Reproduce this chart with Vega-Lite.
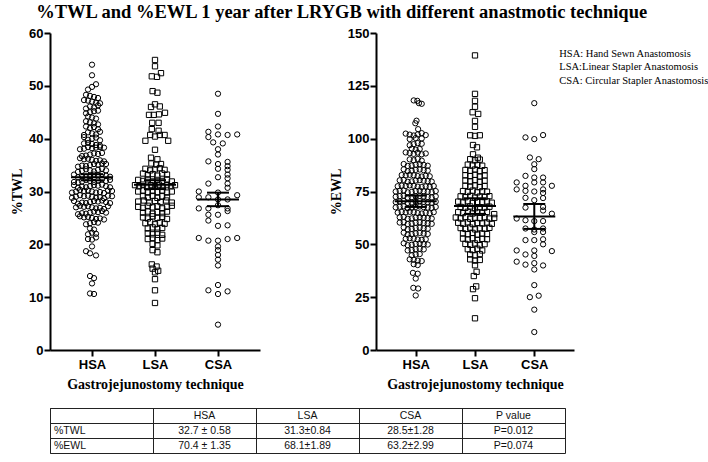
{
  "$schema": "https://vega.github.io/schema/vega-lite/v6.json",
  "background": "white",
  "padding": {"left": 0, "top": 2, "right": 0, "bottom": 0},
  "title": {"text": "%TWL and %EWL 1 year after LRYGB with different anastmotic technique", "font": "Liberation Serif", "fontSize": 18.5, "fontWeight": "bold", "color": "black", "anchor": "middle", "offset": 6, "dx": -13},
  "datasets": {
    "twl": [
      {"g":"HSA","v":54.0,"o":0},{"g":"HSA","v":52.0,"o":0},
      {"g":"HSA","v":50.3,"o":1},{"g":"HSA","v":49.8,"o":0},{"g":"HSA","v":49.3,"o":-1},
      {"g":"HSA","v":48.1,"o":-0.5},{"g":"HSA","v":47.9,"o":0.5},{"g":"HSA","v":48.3,"o":-1.5},{"g":"HSA","v":47.7,"o":1.5},
      {"g":"HSA","v":47.0,"o":0},{"g":"HSA","v":47.2,"o":-1},{"g":"HSA","v":46.8,"o":1},{"g":"HSA","v":47.3,"o":-2},{"g":"HSA","v":46.7,"o":2},
      {"g":"HSA","v":46.1,"o":-0.5},{"g":"HSA","v":45.9,"o":0.5},{"g":"HSA","v":46.3,"o":1.5},{"g":"HSA","v":45.7,"o":-1.5},
      {"g":"HSA","v":45.0,"o":-0.5},{"g":"HSA","v":45.2,"o":0.5},{"g":"HSA","v":44.8,"o":-1.5},{"g":"HSA","v":45.3,"o":1.5},
      {"g":"HSA","v":44.0,"o":0},{"g":"HSA","v":44.2,"o":-1},{"g":"HSA","v":43.8,"o":1},
      {"g":"HSA","v":43.1,"o":-0.5},{"g":"HSA","v":42.9,"o":0.5},{"g":"HSA","v":43.3,"o":-1.5},{"g":"HSA","v":42.7,"o":1.5},
      {"g":"HSA","v":42.0,"o":-0.5},{"g":"HSA","v":42.2,"o":0.5},{"g":"HSA","v":41.8,"o":1.5},{"g":"HSA","v":42.3,"o":-1.5},
      {"g":"HSA","v":41.0,"o":0},{"g":"HSA","v":41.2,"o":-1},{"g":"HSA","v":40.8,"o":1},{"g":"HSA","v":41.3,"o":2},{"g":"HSA","v":40.7,"o":-2},
      {"g":"HSA","v":40.0,"o":0},{"g":"HSA","v":40.2,"o":1},{"g":"HSA","v":39.8,"o":-1},{"g":"HSA","v":40.3,"o":-2},{"g":"HSA","v":39.7,"o":2},
      {"g":"HSA","v":39.0,"o":0},{"g":"HSA","v":39.2,"o":-1},{"g":"HSA","v":38.8,"o":1},{"g":"HSA","v":39.1,"o":-2},{"g":"HSA","v":38.7,"o":2},
      {"g":"HSA","v":38.2,"o":0},{"g":"HSA","v":38.4,"o":-1},{"g":"HSA","v":38.3,"o":1},{"g":"HSA","v":38.1,"o":-2},{"g":"HSA","v":38.4,"o":2},{"g":"HSA","v":38.0,"o":-3},{"g":"HSA","v":38.3,"o":3},
      {"g":"HSA","v":37.0,"o":-0.5},{"g":"HSA","v":37.2,"o":0.5},{"g":"HSA","v":36.8,"o":-1.5},{"g":"HSA","v":37.1,"o":1.5},{"g":"HSA","v":36.7,"o":-2.5},{"g":"HSA","v":37.3,"o":2.5},
      {"g":"HSA","v":36.0,"o":0},{"g":"HSA","v":36.2,"o":-1},{"g":"HSA","v":35.8,"o":1},{"g":"HSA","v":36.1,"o":-2},{"g":"HSA","v":35.9,"o":2},{"g":"HSA","v":36.3,"o":-3},{"g":"HSA","v":35.7,"o":3},
      {"g":"HSA","v":35.0,"o":-0.5},{"g":"HSA","v":35.2,"o":0.5},{"g":"HSA","v":34.8,"o":-1.5},{"g":"HSA","v":35.1,"o":1.5},{"g":"HSA","v":34.9,"o":-2.5},{"g":"HSA","v":35.3,"o":2.5},{"g":"HSA","v":34.7,"o":-3.5},{"g":"HSA","v":35.2,"o":3.5},
      {"g":"HSA","v":34.0,"o":-0.5},{"g":"HSA","v":33.8,"o":0.5},{"g":"HSA","v":34.2,"o":-1.5},{"g":"HSA","v":34.1,"o":1.5},{"g":"HSA","v":33.9,"o":-2.5},{"g":"HSA","v":34.3,"o":2.5},{"g":"HSA","v":33.7,"o":-3.5},{"g":"HSA","v":34.0,"o":3.5},
      {"g":"HSA","v":33.0,"o":-0.5},{"g":"HSA","v":33.2,"o":0.5},{"g":"HSA","v":32.8,"o":-1.5},{"g":"HSA","v":33.1,"o":1.5},{"g":"HSA","v":32.9,"o":-2.5},{"g":"HSA","v":33.3,"o":2.5},{"g":"HSA","v":32.7,"o":-3.5},{"g":"HSA","v":33.0,"o":3.5},{"g":"HSA","v":33.2,"o":-4.5},{"g":"HSA","v":32.8,"o":4.5},
      {"g":"HSA","v":32.0,"o":-0.5},{"g":"HSA","v":31.8,"o":0.5},{"g":"HSA","v":32.2,"o":-1.5},{"g":"HSA","v":32.1,"o":1.5},{"g":"HSA","v":31.9,"o":-2.5},{"g":"HSA","v":32.3,"o":2.5},{"g":"HSA","v":31.7,"o":-3.5},{"g":"HSA","v":32.0,"o":3.5},{"g":"HSA","v":31.8,"o":-4.5},{"g":"HSA","v":32.2,"o":4.5},
      {"g":"HSA","v":31.0,"o":-0.5},{"g":"HSA","v":31.2,"o":0.5},{"g":"HSA","v":30.8,"o":-1.5},{"g":"HSA","v":31.1,"o":1.5},{"g":"HSA","v":30.9,"o":-2.5},{"g":"HSA","v":31.3,"o":2.5},{"g":"HSA","v":30.7,"o":-3.5},{"g":"HSA","v":31.0,"o":3.5},{"g":"HSA","v":31.2,"o":-4.5},{"g":"HSA","v":30.8,"o":4.5},
      {"g":"HSA","v":30.0,"o":0},{"g":"HSA","v":30.2,"o":-1},{"g":"HSA","v":29.8,"o":1},{"g":"HSA","v":30.1,"o":-2},{"g":"HSA","v":29.9,"o":2},{"g":"HSA","v":30.3,"o":-3},{"g":"HSA","v":29.7,"o":3},{"g":"HSA","v":30.0,"o":-4},{"g":"HSA","v":30.2,"o":4},{"g":"HSA","v":29.8,"o":-5},{"g":"HSA","v":30.1,"o":5},
      {"g":"HSA","v":29.0,"o":0},{"g":"HSA","v":29.2,"o":-1},{"g":"HSA","v":28.8,"o":1},{"g":"HSA","v":29.1,"o":-2},{"g":"HSA","v":28.9,"o":2},{"g":"HSA","v":29.3,"o":-3},{"g":"HSA","v":28.7,"o":3},{"g":"HSA","v":29.0,"o":-4},{"g":"HSA","v":29.2,"o":4},{"g":"HSA","v":28.8,"o":-5},{"g":"HSA","v":29.1,"o":5},
      {"g":"HSA","v":28.0,"o":-0.5},{"g":"HSA","v":28.2,"o":0.5},{"g":"HSA","v":27.8,"o":-1.5},{"g":"HSA","v":28.1,"o":1.5},{"g":"HSA","v":27.9,"o":-2.5},{"g":"HSA","v":28.3,"o":2.5},{"g":"HSA","v":27.7,"o":-3.5},{"g":"HSA","v":28.0,"o":3.5},{"g":"HSA","v":28.2,"o":-4.5},{"g":"HSA","v":27.8,"o":4.5},
      {"g":"HSA","v":27.0,"o":0},{"g":"HSA","v":27.2,"o":-1},{"g":"HSA","v":26.8,"o":1},{"g":"HSA","v":27.1,"o":-2},{"g":"HSA","v":26.9,"o":2},{"g":"HSA","v":27.3,"o":-3},{"g":"HSA","v":26.7,"o":3},{"g":"HSA","v":27.0,"o":-4},{"g":"HSA","v":27.2,"o":4},
      {"g":"HSA","v":26.0,"o":-0.5},{"g":"HSA","v":26.2,"o":0.5},{"g":"HSA","v":25.8,"o":-1.5},{"g":"HSA","v":26.1,"o":1.5},{"g":"HSA","v":25.9,"o":-2.5},{"g":"HSA","v":26.3,"o":2.5},{"g":"HSA","v":25.7,"o":-3.5},{"g":"HSA","v":26.0,"o":3.5},
      {"g":"HSA","v":25.0,"o":0},{"g":"HSA","v":25.2,"o":-1},{"g":"HSA","v":24.8,"o":1},{"g":"HSA","v":25.1,"o":-2},{"g":"HSA","v":24.9,"o":2},{"g":"HSA","v":25.3,"o":-3},{"g":"HSA","v":24.7,"o":3},
      {"g":"HSA","v":24.0,"o":-0.5},{"g":"HSA","v":24.2,"o":0.5},{"g":"HSA","v":23.8,"o":-1.5},{"g":"HSA","v":24.1,"o":1.5},
      {"g":"HSA","v":23.0,"o":-0.5},{"g":"HSA","v":22.8,"o":0.5},
      {"g":"HSA","v":22.2,"o":0},{"g":"HSA","v":21.9,"o":-1},{"g":"HSA","v":22.0,"o":1},
      {"g":"HSA","v":21.3,"o":1},{"g":"HSA","v":21.0,"o":-1},{"g":"HSA","v":20.9,"o":0},
      {"g":"HSA","v":19.6,"o":0},
      {"g":"HSA","v":18.7,"o":-1.5},{"g":"HSA","v":18.3,"o":-0.5},{"g":"HSA","v":17.9,"o":1},
      {"g":"HSA","v":14.0,"o":-0.5},{"g":"HSA","v":13.6,"o":0.5},{"g":"HSA","v":12.6,"o":0},{"g":"HSA","v":10.7,"o":-0.5},{"g":"HSA","v":10.6,"o":0.5},

      {"g":"LSA","v":54.9,"o":0},{"g":"LSA","v":53.7,"o":0},{"g":"LSA","v":52.4,"o":1.5},{"g":"LSA","v":51.8,"o":-0.8},{"g":"LSA","v":51.7,"o":0.5},
      {"g":"LSA","v":49.0,"o":-0.6},{"g":"LSA","v":48.7,"o":0.6},{"g":"LSA","v":46.5,"o":0},{"g":"LSA","v":46.0,"o":-1},{"g":"LSA","v":46.1,"o":1.2},
      {"g":"LSA","v":44.9,"o":2.5},{"g":"LSA","v":44.5,"o":-1.5},{"g":"LSA","v":44.5,"o":-0.3},{"g":"LSA","v":44.6,"o":1},
      {"g":"LSA","v":43.0,"o":-0.7},{"g":"LSA","v":43.0,"o":0.9},{"g":"LSA","v":41.8,"o":-0.8},{"g":"LSA","v":41.5,"o":0.9},
      {"g":"LSA","v":40.7,"o":-1.2},{"g":"LSA","v":40.4,"o":0},{"g":"LSA","v":40.7,"o":1.2},{"g":"LSA","v":40.7,"o":2.4},{"g":"LSA","v":39.6,"o":-2.4},{"g":"LSA","v":39.6,"o":3.3},
      {"g":"LSA","v":37.9,"o":0},
      {"g":"LSA","v":36.4,"o":-1},{"g":"LSA","v":36.1,"o":0.6},{"g":"LSA","v":35.3,"o":-0.9},{"g":"LSA","v":35.1,"o":0.3},{"g":"LSA","v":35.2,"o":1.5},
      {"g":"LSA","v":34.3,"o":-2.4},{"g":"LSA","v":34.0,"o":-1.2},{"g":"LSA","v":34.2,"o":0},{"g":"LSA","v":34.4,"o":1.2},{"g":"LSA","v":34.1,"o":2.4},
      {"g":"LSA","v":33.4,"o":-3},{"g":"LSA","v":33.1,"o":-1.8},{"g":"LSA","v":33.3,"o":-0.6},{"g":"LSA","v":33.0,"o":0.6},{"g":"LSA","v":33.4,"o":1.8},{"g":"LSA","v":33.2,"o":3},
      {"g":"LSA","v":32.2,"o":-4.2},{"g":"LSA","v":32.0,"o":-3},{"g":"LSA","v":32.3,"o":-1.8},{"g":"LSA","v":31.9,"o":-0.6},{"g":"LSA","v":32.2,"o":0.6},{"g":"LSA","v":32.0,"o":1.8},{"g":"LSA","v":32.3,"o":3},{"g":"LSA","v":31.9,"o":4.2},
      {"g":"LSA","v":31.2,"o":-5},{"g":"LSA","v":31.0,"o":-4},{"g":"LSA","v":31.3,"o":-3},{"g":"LSA","v":30.9,"o":-2},{"g":"LSA","v":31.2,"o":-1},{"g":"LSA","v":31.0,"o":0},{"g":"LSA","v":31.3,"o":1},{"g":"LSA","v":30.9,"o":2},{"g":"LSA","v":31.2,"o":3},{"g":"LSA","v":31.0,"o":4},{"g":"LSA","v":31.2,"o":5},
      {"g":"LSA","v":30.0,"o":-4.2},{"g":"LSA","v":30.2,"o":-3},{"g":"LSA","v":29.8,"o":-1.8},{"g":"LSA","v":30.1,"o":-0.6},{"g":"LSA","v":29.9,"o":0.6},{"g":"LSA","v":30.2,"o":1.8},{"g":"LSA","v":29.8,"o":3},{"g":"LSA","v":30.0,"o":4.2},
      {"g":"LSA","v":29.1,"o":-3},{"g":"LSA","v":28.9,"o":-1.8},{"g":"LSA","v":29.2,"o":-0.6},{"g":"LSA","v":28.8,"o":0.6},{"g":"LSA","v":29.1,"o":1.8},{"g":"LSA","v":28.9,"o":3},
      {"g":"LSA","v":28.1,"o":-4.2},{"g":"LSA","v":28.3,"o":-2.8},{"g":"LSA","v":27.9,"o":-1.4},{"g":"LSA","v":28.2,"o":0},{"g":"LSA","v":28.0,"o":1.4},{"g":"LSA","v":28.3,"o":2.8},{"g":"LSA","v":27.9,"o":4.2},
      {"g":"LSA","v":27.1,"o":-4.2},{"g":"LSA","v":26.9,"o":-3},{"g":"LSA","v":27.3,"o":-1.8},{"g":"LSA","v":27.0,"o":-0.6},{"g":"LSA","v":27.2,"o":0.6},{"g":"LSA","v":26.8,"o":1.8},{"g":"LSA","v":27.1,"o":3},{"g":"LSA","v":27.3,"o":4.2},
      {"g":"LSA","v":26.0,"o":-3},{"g":"LSA","v":26.2,"o":-1.8},{"g":"LSA","v":25.8,"o":-0.6},{"g":"LSA","v":26.1,"o":0.6},{"g":"LSA","v":25.9,"o":1.8},{"g":"LSA","v":26.2,"o":3},
      {"g":"LSA","v":25.1,"o":-3},{"g":"LSA","v":24.9,"o":-1.8},{"g":"LSA","v":25.3,"o":-0.6},{"g":"LSA","v":25.0,"o":0.6},{"g":"LSA","v":25.2,"o":1.8},{"g":"LSA","v":24.8,"o":3},
      {"g":"LSA","v":24.0,"o":-2.4},{"g":"LSA","v":24.2,"o":-1.2},{"g":"LSA","v":23.8,"o":0},{"g":"LSA","v":24.1,"o":1.2},{"g":"LSA","v":23.9,"o":2.4},
      {"g":"LSA","v":23.0,"o":-1.8},{"g":"LSA","v":23.2,"o":-0.6},{"g":"LSA","v":22.9,"o":0.6},{"g":"LSA","v":23.1,"o":1.8},
      {"g":"LSA","v":22.1,"o":-1.8},{"g":"LSA","v":21.9,"o":-0.6},{"g":"LSA","v":22.2,"o":0.6},{"g":"LSA","v":21.8,"o":1.8},
      {"g":"LSA","v":21.0,"o":-1.8},{"g":"LSA","v":21.2,"o":-0.6},{"g":"LSA","v":20.8,"o":0.6},{"g":"LSA","v":21.1,"o":1.8},
      {"g":"LSA","v":20.1,"o":-0.6},{"g":"LSA","v":19.8,"o":0.6},{"g":"LSA","v":18.9,"o":-0.6},{"g":"LSA","v":18.5,"o":0.6},
      {"g":"LSA","v":16.2,"o":-0.8},{"g":"LSA","v":15.8,"o":0.4},{"g":"LSA","v":15.4,"o":-0.6},{"g":"LSA","v":15.0,"o":0.8},{"g":"LSA","v":14.7,"o":0},
      {"g":"LSA","v":13.4,"o":0},{"g":"LSA","v":11.3,"o":0},{"g":"LSA","v":8.9,"o":0},

      {"g":"CSA","v":48.5,"o":0},{"g":"CSA","v":44.7,"o":0},{"g":"CSA","v":42.3,"o":0},{"g":"CSA","v":41.3,"o":-2.4},{"g":"CSA","v":40.3,"o":-2.4},{"g":"CSA","v":40.8,"o":0},{"g":"CSA","v":40.7,"o":2.4},{"g":"CSA","v":40.8,"o":4.8},
      {"g":"CSA","v":39.3,"o":-1.2},{"g":"CSA","v":39.1,"o":1.2},{"g":"CSA","v":38.0,"o":0},{"g":"CSA","v":37.0,"o":0},
      {"g":"CSA","v":35.7,"o":-2.4},{"g":"CSA","v":35.2,"o":0},{"g":"CSA","v":34.3,"o":0},{"g":"CSA","v":32.7,"o":0},{"g":"CSA","v":31.5,"o":-2.4},
      {"g":"CSA","v":35.6,"o":2.4},{"g":"CSA","v":34.8,"o":2.4},{"g":"CSA","v":34.1,"o":2.4},{"g":"CSA","v":33.2,"o":2.4},{"g":"CSA","v":32.5,"o":2.4},{"g":"CSA","v":31.5,"o":2.4},{"g":"CSA","v":30.7,"o":2.4},
      {"g":"CSA","v":30.0,"o":-4.8},{"g":"CSA","v":29.8,"o":0},{"g":"CSA","v":29.3,"o":4.8},{"g":"CSA","v":28.9,"o":-4.8},{"g":"CSA","v":28.9,"o":-2.4},{"g":"CSA","v":28.5,"o":0},{"g":"CSA","v":28.5,"o":2.4},
      {"g":"CSA","v":26.8,"o":-4.8},{"g":"CSA","v":26.8,"o":-2.4},{"g":"CSA","v":27.4,"o":0},{"g":"CSA","v":26.8,"o":2.4},{"g":"CSA","v":25.6,"o":-2.4},{"g":"CSA","v":25.6,"o":0},{"g":"CSA","v":26.3,"o":2.4},{"g":"CSA","v":24.5,"o":-2.4},{"g":"CSA","v":23.5,"o":0},{"g":"CSA","v":23.6,"o":2.4},
      {"g":"CSA","v":21.2,"o":-4.8},{"g":"CSA","v":20.7,"o":-2.4},{"g":"CSA","v":20.7,"o":0},{"g":"CSA","v":21.0,"o":2.4},{"g":"CSA","v":21.2,"o":4.8},
      {"g":"CSA","v":19.6,"o":0},{"g":"CSA","v":18.9,"o":0},{"g":"CSA","v":18.0,"o":0},{"g":"CSA","v":17.1,"o":0},{"g":"CSA","v":16.0,"o":0},
      {"g":"CSA","v":12.3,"o":0},{"g":"CSA","v":11.3,"o":-2.4},{"g":"CSA","v":10.6,"o":0},{"g":"CSA","v":11.1,"o":2.4},{"g":"CSA","v":4.8,"o":0}
    ],
    "ewl": [
      {"g":"HSA","v":118.1,"o":-0.5},{"g":"HSA","v":117.9,"o":0.4},{"g":"HSA","v":116.8,"o":0.8},{"g":"HSA","v":116.5,"o":1.5},
      {"g":"HSA","v":108.5,"o":0.2},{"g":"HSA","v":107.3,"o":-0.1},{"g":"HSA","v":104.5,"o":0.6},
      {"g":"HSA","v":102.4,"o":-2.5},{"g":"HSA","v":101.9,"o":-1.5},{"g":"HSA","v":101.5,"o":-0.5},{"g":"HSA","v":102.0,"o":0.5},{"g":"HSA","v":102.6,"o":1.5},{"g":"HSA","v":101.7,"o":2.5},
      {"g":"HSA","v":99.8,"o":-1.5},{"g":"HSA","v":100.3,"o":0},{"g":"HSA","v":100.1,"o":1.5},
      {"g":"HSA","v":97.4,"o":-0.5},{"g":"HSA","v":97.9,"o":0.5},{"g":"HSA","v":96.9,"o":-1.5},{"g":"HSA","v":97.6,"o":1.5},
      {"g":"HSA","v":95.3,"o":-1},{"g":"HSA","v":94.8,"o":0},{"g":"HSA","v":95.1,"o":1},
      {"g":"HSA","v":93.5,"o":-2.5},{"g":"HSA","v":93.2,"o":-1.5},{"g":"HSA","v":92.8,"o":-0.5},{"g":"HSA","v":93.4,"o":0.5},{"g":"HSA","v":92.6,"o":1.5},{"g":"HSA","v":93.0,"o":2.5},
      {"g":"HSA","v":90.2,"o":-1.5},{"g":"HSA","v":89.8,"o":-0.5},{"g":"HSA","v":90.4,"o":0.5},{"g":"HSA","v":89.6,"o":1.5},
      {"g":"HSA","v":87.7,"o":0},{"g":"HSA","v":87.3,"o":-1},{"g":"HSA","v":87.9,"o":1},{"g":"HSA","v":87.1,"o":-2},{"g":"HSA","v":87.6,"o":2},{"g":"HSA","v":88.0,"o":-3},{"g":"HSA","v":87.2,"o":3},
      {"g":"HSA","v":85.2,"o":0},{"g":"HSA","v":84.8,"o":-1},{"g":"HSA","v":85.4,"o":1},{"g":"HSA","v":84.6,"o":-2},{"g":"HSA","v":85.1,"o":2},{"g":"HSA","v":85.5,"o":-3},{"g":"HSA","v":84.9,"o":3},
      {"g":"HSA","v":82.7,"o":-0.5},{"g":"HSA","v":82.3,"o":0.5},{"g":"HSA","v":82.9,"o":-1.5},{"g":"HSA","v":82.1,"o":1.5},{"g":"HSA","v":82.6,"o":-2.5},{"g":"HSA","v":82.4,"o":2.5},{"g":"HSA","v":82.8,"o":-3.5},{"g":"HSA","v":82.2,"o":3.5},
      {"g":"HSA","v":80.2,"o":0},{"g":"HSA","v":79.8,"o":-1},{"g":"HSA","v":80.4,"o":1},{"g":"HSA","v":79.6,"o":-2},{"g":"HSA","v":80.1,"o":2},{"g":"HSA","v":80.5,"o":-3},{"g":"HSA","v":79.9,"o":3},{"g":"HSA","v":80.3,"o":-4},{"g":"HSA","v":79.7,"o":4},
      {"g":"HSA","v":77.7,"o":-0.5},{"g":"HSA","v":77.3,"o":0.5},{"g":"HSA","v":77.9,"o":-1.5},{"g":"HSA","v":77.1,"o":1.5},{"g":"HSA","v":77.6,"o":-2.5},{"g":"HSA","v":77.4,"o":2.5},{"g":"HSA","v":77.8,"o":-3.5},{"g":"HSA","v":77.2,"o":3.5},{"g":"HSA","v":77.5,"o":-4.5},{"g":"HSA","v":77.6,"o":4.5},
      {"g":"HSA","v":75.2,"o":0},{"g":"HSA","v":74.8,"o":-1},{"g":"HSA","v":75.4,"o":1},{"g":"HSA","v":74.6,"o":-2},{"g":"HSA","v":75.1,"o":2},{"g":"HSA","v":75.5,"o":-3},{"g":"HSA","v":74.9,"o":3},{"g":"HSA","v":75.3,"o":-4},{"g":"HSA","v":74.7,"o":4},{"g":"HSA","v":75.0,"o":-5},{"g":"HSA","v":75.2,"o":5},
      {"g":"HSA","v":72.7,"o":0},{"g":"HSA","v":72.3,"o":-1},{"g":"HSA","v":72.9,"o":1},{"g":"HSA","v":72.1,"o":-2},{"g":"HSA","v":72.6,"o":2},{"g":"HSA","v":73.0,"o":-3},{"g":"HSA","v":72.4,"o":3},{"g":"HSA","v":72.8,"o":-4},{"g":"HSA","v":72.2,"o":4},{"g":"HSA","v":72.5,"o":-5},{"g":"HSA","v":72.7,"o":5},
      {"g":"HSA","v":70.2,"o":0},{"g":"HSA","v":69.8,"o":-1},{"g":"HSA","v":70.4,"o":1},{"g":"HSA","v":69.6,"o":-2},{"g":"HSA","v":70.1,"o":2},{"g":"HSA","v":70.5,"o":-3},{"g":"HSA","v":69.9,"o":3},{"g":"HSA","v":70.3,"o":-4},{"g":"HSA","v":69.7,"o":4},{"g":"HSA","v":70.0,"o":-5},{"g":"HSA","v":70.2,"o":5},
      {"g":"HSA","v":67.7,"o":0},{"g":"HSA","v":67.3,"o":-1},{"g":"HSA","v":67.9,"o":1},{"g":"HSA","v":67.1,"o":-2},{"g":"HSA","v":67.6,"o":2},{"g":"HSA","v":68.0,"o":-3},{"g":"HSA","v":67.4,"o":3},{"g":"HSA","v":67.8,"o":-4},{"g":"HSA","v":67.2,"o":4},{"g":"HSA","v":67.5,"o":-5},{"g":"HSA","v":67.7,"o":5},
      {"g":"HSA","v":65.2,"o":-0.5},{"g":"HSA","v":64.8,"o":0.5},{"g":"HSA","v":65.4,"o":-1.5},{"g":"HSA","v":64.6,"o":1.5},{"g":"HSA","v":65.1,"o":-2.5},{"g":"HSA","v":64.9,"o":2.5},{"g":"HSA","v":65.3,"o":-3.5},{"g":"HSA","v":64.7,"o":3.5},{"g":"HSA","v":65.0,"o":-4.5},{"g":"HSA","v":65.2,"o":4.5},
      {"g":"HSA","v":62.7,"o":0},{"g":"HSA","v":62.3,"o":-1},{"g":"HSA","v":62.9,"o":1},{"g":"HSA","v":62.1,"o":-2},{"g":"HSA","v":62.6,"o":2},{"g":"HSA","v":63.0,"o":-3},{"g":"HSA","v":62.4,"o":3},{"g":"HSA","v":62.8,"o":-4},{"g":"HSA","v":62.2,"o":4},
      {"g":"HSA","v":60.2,"o":0},{"g":"HSA","v":59.8,"o":-1},{"g":"HSA","v":60.4,"o":1},{"g":"HSA","v":59.6,"o":-2},{"g":"HSA","v":60.1,"o":2},{"g":"HSA","v":60.5,"o":-3},{"g":"HSA","v":59.9,"o":3},{"g":"HSA","v":60.3,"o":-4},{"g":"HSA","v":59.7,"o":4},
      {"g":"HSA","v":57.7,"o":0},{"g":"HSA","v":57.3,"o":-1},{"g":"HSA","v":57.9,"o":1},{"g":"HSA","v":57.1,"o":-2},{"g":"HSA","v":57.6,"o":2},{"g":"HSA","v":58.0,"o":-3},{"g":"HSA","v":57.4,"o":3},
      {"g":"HSA","v":55.2,"o":0},{"g":"HSA","v":54.8,"o":-1},{"g":"HSA","v":55.4,"o":1},{"g":"HSA","v":54.6,"o":-2},{"g":"HSA","v":55.1,"o":2},{"g":"HSA","v":55.5,"o":-3},{"g":"HSA","v":54.9,"o":3},
      {"g":"HSA","v":52.7,"o":-0.5},{"g":"HSA","v":52.3,"o":0.5},{"g":"HSA","v":52.9,"o":-1.5},{"g":"HSA","v":52.1,"o":1.5},{"g":"HSA","v":52.6,"o":-2.5},{"g":"HSA","v":52.4,"o":2.5},
      {"g":"HSA","v":50.2,"o":0},{"g":"HSA","v":49.8,"o":-1},{"g":"HSA","v":50.4,"o":1},{"g":"HSA","v":49.6,"o":-2},{"g":"HSA","v":50.1,"o":2},{"g":"HSA","v":50.5,"o":-3},{"g":"HSA","v":49.9,"o":3},
      {"g":"HSA","v":47.7,"o":0},{"g":"HSA","v":47.3,"o":-1},{"g":"HSA","v":47.9,"o":1},{"g":"HSA","v":47.1,"o":-2},{"g":"HSA","v":47.6,"o":2},
      {"g":"HSA","v":45.2,"o":0},{"g":"HSA","v":44.8,"o":-1},{"g":"HSA","v":45.4,"o":1},
      {"g":"HSA","v":42.7,"o":-0.5},{"g":"HSA","v":42.3,"o":0.5},{"g":"HSA","v":42.9,"o":-1.5},{"g":"HSA","v":42.1,"o":1.5},
      {"g":"HSA","v":40.6,"o":-0.5},{"g":"HSA","v":40.2,"o":0.5},
      {"g":"HSA","v":36.5,"o":-0.7},{"g":"HSA","v":36.1,"o":0.5},{"g":"HSA","v":33.8,"o":0},
      {"g":"HSA","v":29.4,"o":-0.6},{"g":"HSA","v":29.1,"o":0.6},{"g":"HSA","v":25.8,"o":0},

      {"g":"LSA","v":139.4,"o":0},{"g":"LSA","v":121.2,"o":0},{"g":"LSA","v":117.9,"o":0},{"g":"LSA","v":115.1,"o":0},{"g":"LSA","v":112.5,"o":-0.6},{"g":"LSA","v":111.7,"o":0.8},
      {"g":"LSA","v":108.4,"o":0},{"g":"LSA","v":105.6,"o":0},{"g":"LSA","v":101.6,"o":-1.2},{"g":"LSA","v":101.3,"o":0},{"g":"LSA","v":101.6,"o":1.2},{"g":"LSA","v":97.0,"o":-0.5},{"g":"LSA","v":95.9,"o":0.5},
      {"g":"LSA","v":92.6,"o":-0.5},{"g":"LSA","v":91.0,"o":0.7},
      {"g":"LSA","v":90.3,"o":-1.2},{"g":"LSA","v":89.8,"o":0},{"g":"LSA","v":90.1,"o":1.2},
      {"g":"LSA","v":87.7,"o":-1.8},{"g":"LSA","v":87.3,"o":-0.6},{"g":"LSA","v":87.6,"o":0.6},{"g":"LSA","v":87.2,"o":1.8},
      {"g":"LSA","v":85.2,"o":-2.4},{"g":"LSA","v":84.8,"o":-1.2},{"g":"LSA","v":85.4,"o":0},{"g":"LSA","v":84.6,"o":1.2},{"g":"LSA","v":85.1,"o":2.4},
      {"g":"LSA","v":82.7,"o":-2.4},{"g":"LSA","v":82.3,"o":-1.2},{"g":"LSA","v":82.9,"o":0},{"g":"LSA","v":82.1,"o":1.2},{"g":"LSA","v":82.6,"o":2.4},
      {"g":"LSA","v":80.2,"o":-2.4},{"g":"LSA","v":79.8,"o":-1.2},{"g":"LSA","v":80.4,"o":0},{"g":"LSA","v":79.6,"o":1.2},{"g":"LSA","v":80.1,"o":2.4},
      {"g":"LSA","v":77.7,"o":-2.4},{"g":"LSA","v":77.3,"o":-1.2},{"g":"LSA","v":77.9,"o":0},{"g":"LSA","v":77.1,"o":1.2},{"g":"LSA","v":77.6,"o":2.4},
      {"g":"LSA","v":75.2,"o":-3},{"g":"LSA","v":74.8,"o":-1.8},{"g":"LSA","v":75.4,"o":-0.6},{"g":"LSA","v":74.6,"o":0.6},{"g":"LSA","v":75.1,"o":1.8},{"g":"LSA","v":74.9,"o":3},
      {"g":"LSA","v":72.7,"o":-3.6},{"g":"LSA","v":72.3,"o":-2.4},{"g":"LSA","v":72.9,"o":-1.2},{"g":"LSA","v":72.1,"o":0},{"g":"LSA","v":72.6,"o":1.2},{"g":"LSA","v":72.4,"o":2.4},{"g":"LSA","v":72.8,"o":3.6},
      {"g":"LSA","v":70.2,"o":-4.2},{"g":"LSA","v":69.8,"o":-3},{"g":"LSA","v":70.4,"o":-1.8},{"g":"LSA","v":69.6,"o":-0.6},{"g":"LSA","v":70.1,"o":0.6},{"g":"LSA","v":69.9,"o":1.8},{"g":"LSA","v":70.3,"o":3},{"g":"LSA","v":69.7,"o":4.2},
      {"g":"LSA","v":67.7,"o":-3.6},{"g":"LSA","v":67.3,"o":-2.4},{"g":"LSA","v":67.9,"o":-1.2},{"g":"LSA","v":67.1,"o":0},{"g":"LSA","v":67.6,"o":1.2},{"g":"LSA","v":67.4,"o":2.4},{"g":"LSA","v":67.8,"o":3.6},
      {"g":"LSA","v":65.2,"o":-4.2},{"g":"LSA","v":64.8,"o":-3},{"g":"LSA","v":65.4,"o":-1.8},{"g":"LSA","v":64.6,"o":-0.6},{"g":"LSA","v":65.1,"o":0.6},{"g":"LSA","v":64.9,"o":1.8},{"g":"LSA","v":65.3,"o":3},{"g":"LSA","v":64.3,"o":4.8},
      {"g":"LSA","v":62.7,"o":-4.8},{"g":"LSA","v":62.3,"o":-3.6},{"g":"LSA","v":62.9,"o":-2.4},{"g":"LSA","v":62.1,"o":-1.2},{"g":"LSA","v":62.6,"o":0},{"g":"LSA","v":62.4,"o":1.2},{"g":"LSA","v":62.8,"o":2.4},{"g":"LSA","v":62.2,"o":3.6},{"g":"LSA","v":62.5,"o":4.8},
      {"g":"LSA","v":60.2,"o":-4.2},{"g":"LSA","v":59.8,"o":-3},{"g":"LSA","v":60.4,"o":-1.8},{"g":"LSA","v":59.6,"o":-0.6},{"g":"LSA","v":60.1,"o":0.6},{"g":"LSA","v":59.9,"o":1.8},{"g":"LSA","v":60.3,"o":3},{"g":"LSA","v":59.7,"o":4.2},
      {"g":"LSA","v":57.7,"o":-3.6},{"g":"LSA","v":57.3,"o":-2.4},{"g":"LSA","v":57.9,"o":-1.2},{"g":"LSA","v":57.1,"o":0},{"g":"LSA","v":57.6,"o":1.2},{"g":"LSA","v":57.4,"o":2.4},{"g":"LSA","v":57.8,"o":3.6},
      {"g":"LSA","v":55.2,"o":-3},{"g":"LSA","v":54.8,"o":-1.8},{"g":"LSA","v":55.4,"o":-0.6},{"g":"LSA","v":54.6,"o":0.6},{"g":"LSA","v":55.1,"o":1.8},{"g":"LSA","v":54.9,"o":3},
      {"g":"LSA","v":52.7,"o":-3},{"g":"LSA","v":52.3,"o":-1.8},{"g":"LSA","v":52.9,"o":-0.6},{"g":"LSA","v":52.1,"o":0.6},{"g":"LSA","v":52.6,"o":1.8},{"g":"LSA","v":52.4,"o":3},
      {"g":"LSA","v":50.2,"o":-2.4},{"g":"LSA","v":49.8,"o":-1.2},{"g":"LSA","v":50.4,"o":0},{"g":"LSA","v":49.6,"o":1.2},{"g":"LSA","v":50.1,"o":2.4},
      {"g":"LSA","v":47.7,"o":-1.8},{"g":"LSA","v":47.3,"o":-0.6},{"g":"LSA","v":47.9,"o":0.6},{"g":"LSA","v":47.1,"o":1.8},
      {"g":"LSA","v":45.2,"o":-1.2},{"g":"LSA","v":44.8,"o":0},{"g":"LSA","v":45.4,"o":1.2},
      {"g":"LSA","v":42.9,"o":-1.2},{"g":"LSA","v":42.3,"o":0},{"g":"LSA","v":42.6,"o":1.2},
      {"g":"LSA","v":40.1,"o":0},{"g":"LSA","v":37.0,"o":0.4},{"g":"LSA","v":35.0,"o":-0.3},{"g":"LSA","v":30.1,"o":0.3},{"g":"LSA","v":28.8,"o":-0.5},{"g":"LSA","v":24.5,"o":0},{"g":"LSA","v":15.0,"o":0},

      {"g":"CSA","v":116.8,"o":0},{"g":"CSA","v":100.6,"o":-2.2},{"g":"CSA","v":99.8,"o":0},{"g":"CSA","v":101.7,"o":2.2},{"g":"CSA","v":91.1,"o":-1.1},{"g":"CSA","v":90.3,"o":1.1},
      {"g":"CSA","v":87.9,"o":0},{"g":"CSA","v":85.6,"o":0},{"g":"CSA","v":82.4,"o":-2.2},{"g":"CSA","v":81.6,"o":0},{"g":"CSA","v":81.6,"o":2.2},
      {"g":"CSA","v":79.3,"o":-4.4},{"g":"CSA","v":77.7,"o":-2.2},{"g":"CSA","v":79.3,"o":0},{"g":"CSA","v":79.3,"o":2.2},{"g":"CSA","v":77.7,"o":4.4},
      {"g":"CSA","v":76.0,"o":-4.4},{"g":"CSA","v":75.3,"o":-2.2},{"g":"CSA","v":75.0,"o":0},{"g":"CSA","v":76.0,"o":2.2},{"g":"CSA","v":74.3,"o":2.2},
      {"g":"CSA","v":72.0,"o":-2.2},{"g":"CSA","v":71.9,"o":2.2},{"g":"CSA","v":70.9,"o":0},{"g":"CSA","v":67.4,"o":-2.2},{"g":"CSA","v":67.7,"o":2.2},{"g":"CSA","v":66.0,"o":2.2},{"g":"CSA","v":64.5,"o":4.4},
      {"g":"CSA","v":62.2,"o":-4.4},{"g":"CSA","v":61.4,"o":-2.2},{"g":"CSA","v":61.0,"o":0},{"g":"CSA","v":61.0,"o":2.2},
      {"g":"CSA","v":57.5,"o":-2.2},{"g":"CSA","v":57.0,"o":0},{"g":"CSA","v":57.5,"o":2.2},{"g":"CSA","v":55.8,"o":0},{"g":"CSA","v":55.8,"o":2.2},
      {"g":"CSA","v":52.4,"o":2.2},{"g":"CSA","v":52.0,"o":-2.2},{"g":"CSA","v":52.0,"o":0},{"g":"CSA","v":50.0,"o":2.2},
      {"g":"CSA","v":47.1,"o":-4.4},{"g":"CSA","v":46.8,"o":4.4},{"g":"CSA","v":47.1,"o":0},{"g":"CSA","v":45.2,"o":-2.2},{"g":"CSA","v":44.5,"o":0},
      {"g":"CSA","v":41.8,"o":-4.4},{"g":"CSA","v":40.4,"o":-2.2},{"g":"CSA","v":41.1,"o":0},{"g":"CSA","v":40.0,"o":2.2},{"g":"CSA","v":38.1,"o":0},
      {"g":"CSA","v":30.7,"o":0},{"g":"CSA","v":25.0,"o":-1.1},{"g":"CSA","v":25.7,"o":1.1},{"g":"CSA","v":19.1,"o":0},{"g":"CSA","v":8.5,"o":0}
    ],
    "twlsum": [
      {"g":"HSA","m":32.7,"lo":32.12,"hi":33.28},
      {"g":"LSA","m":31.3,"lo":30.46,"hi":32.14},
      {"g":"CSA","m":28.5,"lo":27.22,"hi":29.78}
    ],
    "ewlsum": [
      {"g":"HSA","m":70.4,"lo":67.7,"hi":73.1},
      {"g":"LSA","m":68.1,"lo":64.4,"hi":71.8},
      {"g":"CSA","m":63.2,"lo":57.3,"hi":69.1}
    ],
    "legend": [
      {"g":"CSA","i":1,"t":"HSA: Hand Sewn Anastomosis"},
      {"g":"CSA","i":2,"t":"LSA:Linear Stapler Anastomosis"},
      {"g":"CSA","i":3,"t":"CSA: Circular Stapler Anastomosis"}
    ],
    "table": [
      {"r":0,"c":0,"t":""},{"r":0,"c":1,"t":"HSA"},{"r":0,"c":2,"t":"LSA"},{"r":0,"c":3,"t":"CSA"},{"r":0,"c":4,"t":"P value"},
      {"r":1,"c":0,"t":"%TWL"},{"r":1,"c":1,"t":"32.7 ± 0.58"},{"r":1,"c":2,"t":"31.3±0.84"},{"r":1,"c":3,"t":"28.5±1.28"},{"r":1,"c":4,"t":"P=0.012"},
      {"r":2,"c":0,"t":"%EWL"},{"r":2,"c":1,"t":"70.4 ± 1.35"},{"r":2,"c":2,"t":"68.1±1.89"},{"r":2,"c":3,"t":"63.2±2.99"},{"r":2,"c":4,"t":"P=0.074"}
    ]
  },
  "vconcat": [
    {
      "hconcat": [
        {
          "width": 210,
          "height": 317,
          "encoding": {
            "x": {"field": "g", "type": "nominal", "title": "Gastrojejunostomy technique",
              "scale": {"type": "point", "domain": ["HSA", "LSA", "CSA"], "padding": 0.667}}
          },
          "layer": [
            {
              "data": {"name": "twl"},
              "mark": {"type": "point", "filled": false, "color": "black", "strokeWidth": 1, "size": 28, "opacity": 1},
              "encoding": {
                "xOffset": {"field": "o", "type": "quantitative", "scale": {"domain": [-10, 10], "range": [-40, 40]}},
                "y": {"field": "v", "type": "quantitative", "title": "%TWL",
                  "scale": {"domain": [0, 60], "nice": false},
                  "axis": {"values": [0, 10, 20, 30, 40, 50, 60]}},
                "shape": {"field": "g", "type": "nominal",
                  "scale": {"domain": ["HSA", "LSA", "CSA"], "range": ["circle", "square", "circle"]}, "legend": null}
              }
            },
            {
              "data": {"name": "twlsum"},
              "mark": {"type": "rule", "color": "black", "strokeWidth": 2},
              "encoding": {"y": {"field": "lo", "type": "quantitative", "title": "%TWL"}, "y2": {"field": "hi"}}
            },
            {
              "data": {"name": "twlsum"},
              "mark": {"type": "tick", "color": "black", "size": 42, "thickness": 2, "opacity": 1},
              "encoding": {"y": {"field": "m", "type": "quantitative", "title": "%TWL"}}
            },
            {
              "data": {"name": "twlsum"},
              "mark": {"type": "tick", "color": "black", "size": 22, "thickness": 2, "opacity": 1},
              "encoding": {"y": {"field": "lo", "type": "quantitative", "title": "%TWL"}}
            },
            {
              "data": {"name": "twlsum"},
              "mark": {"type": "tick", "color": "black", "size": 22, "thickness": 2, "opacity": 1},
              "encoding": {"y": {"field": "hi", "type": "quantitative", "title": "%TWL"}}
            }
          ]
        },
        {
          "width": 198,
          "height": 317,
          "encoding": {
            "x": {"field": "g", "type": "nominal", "title": "Gastrojejunostomy technique",
              "scale": {"type": "point", "domain": ["HSA", "LSA", "CSA"], "padding": 0.67}}
          },
          "layer": [
            {
              "data": {"name": "ewl"},
              "mark": {"type": "point", "filled": false, "color": "black", "strokeWidth": 1, "size": 28, "opacity": 1},
              "encoding": {
                "xOffset": {"field": "o", "type": "quantitative", "scale": {"domain": [-10, 10], "range": [-40, 40]}},
                "y": {"field": "v", "type": "quantitative", "title": "%EWL",
                  "scale": {"domain": [0, 150], "nice": false},
                  "axis": {"values": [0, 25, 50, 75, 100, 125, 150]}},
                "shape": {"field": "g", "type": "nominal",
                  "scale": {"domain": ["HSA", "LSA", "CSA"], "range": ["circle", "square", "triangle-up"]}, "legend": null}
              }
            },
            {
              "data": {"name": "ewlsum"},
              "mark": {"type": "rule", "color": "black", "strokeWidth": 2},
              "encoding": {"y": {"field": "lo", "type": "quantitative", "title": "%EWL"}, "y2": {"field": "hi"}}
            },
            {
              "data": {"name": "ewlsum"},
              "mark": {"type": "tick", "color": "black", "size": 42, "thickness": 2, "opacity": 1},
              "encoding": {"y": {"field": "m", "type": "quantitative", "title": "%EWL"}}
            },
            {
              "data": {"name": "ewlsum"},
              "mark": {"type": "tick", "color": "black", "size": 22, "thickness": 2, "opacity": 1},
              "encoding": {"y": {"field": "lo", "type": "quantitative", "title": "%EWL"}}
            },
            {
              "data": {"name": "ewlsum"},
              "mark": {"type": "tick", "color": "black", "size": 22, "thickness": 2, "opacity": 1},
              "encoding": {"y": {"field": "hi", "type": "quantitative", "title": "%EWL"}}
            },
            {
              "data": {"name": "legend"},
              "transform": [{"filter": "datum.i == 1"}],
              "mark": {"type": "text", "align": "left", "baseline": "middle", "dx": 25, "font": "Liberation Serif", "fontSize": 10.5, "color": "black"},
              "encoding": {
                "y": {"datum": 140, "type": "quantitative", "title": "%EWL"},
                "text": {"field": "t"}
              }
            },
            {
              "data": {"name": "legend"},
              "transform": [{"filter": "datum.i == 2"}],
              "mark": {"type": "text", "align": "left", "baseline": "middle", "dx": 25, "font": "Liberation Serif", "fontSize": 10.5, "color": "black"},
              "encoding": {
                "y": {"datum": 133.7, "type": "quantitative", "title": "%EWL"},
                "text": {"field": "t"}
              }
            },
            {
              "data": {"name": "legend"},
              "transform": [{"filter": "datum.i == 3"}],
              "mark": {"type": "text", "align": "left", "baseline": "middle", "dx": 25, "font": "Liberation Serif", "fontSize": 10.5, "color": "black"},
              "encoding": {
                "y": {"datum": 127.3, "type": "quantitative", "title": "%EWL"},
                "text": {"field": "t"}
              }
            }
          ]
        }
      ],
      "spacing": 69
    },
    {
      "width": 515,
      "height": 45,
      "view": {"stroke": "#222222", "strokeWidth": 1},
      "data": {"name": "table"},
      "encoding": {
        "x": {"field": "c", "type": "ordinal", "scale": {"type": "band", "paddingInner": 0, "paddingOuter": 0},
          "axis": {"labels": false, "ticks": false, "domain": false, "title": null, "grid": true, "gridColor": "#222222", "gridWidth": 1, "gridOpacity": 1, "bandPosition": 0}},
        "y": {"field": "r", "type": "ordinal", "scale": {"type": "band", "paddingInner": 0, "paddingOuter": 0},
          "axis": {"labels": false, "ticks": false, "domain": false, "grid": true, "gridColor": "#222222", "gridWidth": 1, "gridOpacity": 1, "bandPosition": 0,
            "title": "x", "titleOpacity": 0, "titleFontSize": 12, "titlePadding": 36}}
      },
      "layer": [
        {
          "transform": [{"filter": "datum.c > 0"}],
          "mark": {"type": "text", "font": "Liberation Sans", "fontSize": 10.5, "color": "#111111"},
          "encoding": {"text": {"field": "t"}}
        },
        {
          "transform": [{"filter": "datum.c == 0"}],
          "mark": {"type": "text", "align": "left", "dx": 4, "font": "Liberation Sans", "fontSize": 10.5, "color": "#111111"},
          "encoding": {"x": {"field": "c", "type": "ordinal", "bandPosition": 0, "scale": {"type": "band", "paddingInner": 0, "paddingOuter": 0}}, "text": {"field": "t"}}
        }
      ]
    }
  ],
  "spacing": 16,
  "config": {
    "view": {"stroke": null},
    "axis": {
      "grid": false,
      "domainColor": "black", "domainWidth": 2,
      "tickColor": "black", "tickWidth": 2, "tickSize": 6,
      "labelFont": "Liberation Sans", "labelFontWeight": "bold", "labelFontSize": 13, "labelColor": "black",
      "titleFont": "Liberation Serif", "titleFontWeight": "bold", "titleFontSize": 14, "titleColor": "black"
    },
    "axisX": {"labelAngle": 0, "labelPadding": 2, "titlePadding": 6},
    "axisY": {"labelPadding": 1, "titlePadding": 4}
  }
}
